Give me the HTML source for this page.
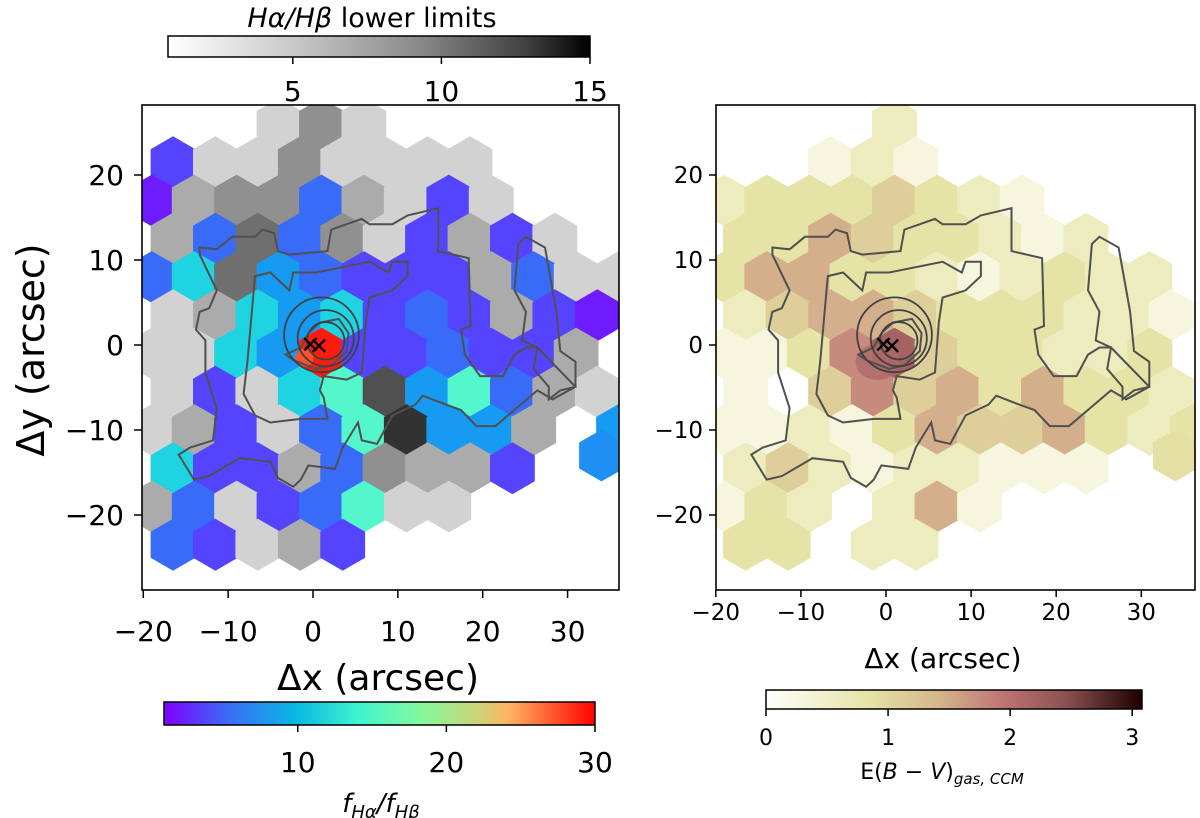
<!DOCTYPE html>
<html><head><meta charset="utf-8"><style>
body{margin:0;background:#fff}
svg{display:block;font-family:"DejaVu Sans","Liberation Sans",sans-serif}
</style></head><body>
<svg id="fig" width="1200" height="818" viewBox="0 0 1200 818" xmlns="http://www.w3.org/2000/svg">
<defs>
<clipPath id="clipL"><rect x="142" y="105" width="477" height="485"/></clipPath>
<clipPath id="clipR"><rect x="716" y="105" width="479" height="485"/></clipPath>
<linearGradient id="gGrey" x1="0" x2="1" y1="0" y2="0"><stop offset="0" stop-color="#ffffff"/><stop offset="0.3" stop-color="#c8c8c8"/><stop offset="0.6" stop-color="#888"/><stop offset="0.85" stop-color="#404040"/><stop offset="1" stop-color="#000"/></linearGradient>
<linearGradient id="gRain" x1="0" x2="1" y1="0" y2="0"><stop offset="0" stop-color="#8000ff"/><stop offset="0.15" stop-color="#3c6df5"/><stop offset="0.3" stop-color="#08b5e5"/><stop offset="0.45" stop-color="#3ef4d0"/><stop offset="0.6" stop-color="#86f89c"/><stop offset="0.72" stop-color="#c7d67a"/><stop offset="0.8" stop-color="#ffb360"/><stop offset="0.9" stop-color="#ff5a30"/><stop offset="1" stop-color="#ff0000"/></linearGradient>
<linearGradient id="gPink" x1="0" x2="1" y1="0" y2="0"><stop offset="0" stop-color="#fffffd"/><stop offset="0.27" stop-color="#e6e4a6"/><stop offset="0.45" stop-color="#d6b88e"/><stop offset="0.63" stop-color="#bf7474"/><stop offset="0.8" stop-color="#8a5050"/><stop offset="1" stop-color="#1e0000"/></linearGradient>
</defs>
<g id="cellsL" clip-path="url(#clipL)"></g>
<g id="cellsR" clip-path="url(#clipR)"></g>
<g id="contL" clip-path="url(#clipL)"></g>
<g id="contR" clip-path="url(#clipR)"></g>
<g id="axes"></g>

<g>
<text x="372" y="27" font-size="27" text-anchor="middle"><tspan font-style="italic">Hα/Hβ</tspan> lower limits</text>
<rect x="168" y="36" width="422" height="21" fill="url(#gGrey)" stroke="#000" stroke-width="1.5"/>
</g>
<g>
<rect x="164" y="702" width="431" height="23" fill="url(#gRain)" stroke="#000" stroke-width="1.5"/>
<text x="381" y="812" font-size="26" text-anchor="middle" font-style="italic">f<tspan font-size="18" dy="6">Hα</tspan><tspan dy="-6">/f</tspan><tspan font-size="18" dy="6">Hβ</tspan></text>
</g>
<g>
<rect x="766" y="690" width="376" height="19" fill="url(#gPink)" stroke="#000" stroke-width="1.5"/>
<text x="942" y="779" font-size="22" text-anchor="middle">E(<tspan font-style="italic">B</tspan> − <tspan font-style="italic">V</tspan>)<tspan font-size="15" font-style="italic" dy="5">gas, CCM</tspan></text>
</g>
</svg>
<script>
const rowY = [26, 21.5, 17, 12.5, 8, 3.5, -1, -5.5, -10, -14.5, -19, -23.5];
const leftRows = [
 ". . . A C A . . . . . .",
 "2 A A C A A A A . . .",
 "1 B C C 3 B A 2 A . . .",
 "B 3 D 3 C A 2 B 2 A .",
 "3 5 D 4 3 2 2 2 B 3 A A",
 "A B 5 4 5 2 3 2 B 2 1",
 "A A 5 4 9 2 2 3 2 2 B .",
 "A 2 A 5 6 E 4 6 3 B A",
 "A B 2 A 3 6 F 4 4 B . 4",
 "5 2 2 B 3 C B B 2 . .",
 "B 3 A 2 3 6 A A . . . .",
 "3 2 A B 2 . . . . . ."
];
const rightRows = [
 ". . . . 2 . . . . . . .",
 ". . 1 2 1 . . . . . .",
 "2 3 3 3 4 3 2 1 . . . .",
 "3 3 5 4 3 3 2 1 2 . .",
 "3 5 5 3 3 2 1 2 3 2 2 .",
 "2 4 5 5 4 3 3 3 2 2 1",
 "1 1 3 6 7 4 3 3 2 2 3 .",
 "1 . 4 6 4 5 3 5 3 3 2",
 "1 1 2 1 3 5 4 4 5 3 2 3",
 "2 4 2 1 2 2 1 1 1 . .",
 "1 3 2 . 2 5 1 . . . . .",
 "3 3 . 2 2 . . . . . ."
];
const greyVals = {A:2.5, B:4.5, C:6, D:8, E:10, F:12};
const ratioVals = {"1":2, "2":3.5, "3":5, "4":7, "5":10, "6":13, "8":22, "9":29};
const ebvVals = {"1":0.3, "2":0.6, "3":0.85, "4":1.1, "5":1.45, "6":1.75, "7":2.2};
const xTicks = [-20, -10, 0, 10, 20, 30];
const yTicks = [20, 10, 0, -10, -20];
const greyTicks = [5, 10, 15];
const ratioTicks = [10, 20, 30];
const ebvTicks = [0, 1, 2, 3];
const outerContour = [[455,520],[500,525],[540,490],[600,490],[620,470],[650,480],[660,530],[690,540],[790,530],[800,470],[880,440],[900,455],[960,455],[1000,430],[1040,420],[1080,410],[1080,530],[1160,550],[1165,740],[1140,750],[1150,820],[1190,880],[1250,880],[1280,820],[1310,800],[1340,800],[1330,860],[1370,910],[1370,945],[1400,920],[1440,910],[1440,840],[1400,810],[1390,700],[1360,520],[1310,490],[1290,510],[1280,640],[1310,700],[1300,780],[1340,800],[1440,910],[1380,945],[1340,920],[1230,1020],[1180,1020],[1140,975],[1100,960],[1040,935],[1020,960],[960,990],[920,1070],[880,1060],[870,1010],[830,1080],[810,1140],[740,1130],[720,1170],[700,1190],[660,1165],[640,1120],[560,1110],[480,1160],[440,1170],[400,1100],[430,1080],[490,1060],[500,970],[470,870],[470,780],[445,750],[455,700],[480,690],[500,640],[455,540]];
const innerContour = [[580,840],[600,600],[640,590],[690,640],[700,590],[760,590],[900,560],[950,590],[960,560],[1000,560],[1000,600],[960,640],[900,660],[890,730],[880,870],[840,890],[780,880],[770,920],[780,940],[790,1000],[720,1000],[640,1010],[600,990],[570,930]];
const coreContour = [[680,820],[720,800],[740,760],[770,730],[820,720],[845,760],[840,810],[800,850],[760,860],[700,835]];

const yPix = v => 345 - v*8.5;
const xPixL = v => 313 + v*8.486;
const xPixR = v => 886 + v*8.51;
const digX = zx => (zx-752)/22.24;
const digY = zy => (793-zy)/23.8;
function rainbow(v){const t=Math.max(0,Math.min(1,(v-1)/29));
 const r=Math.min(1,Math.abs(2*t-0.5)),g=Math.sin(Math.PI*t),b=Math.cos(Math.PI*t/2);
 return `rgb(${Math.round(r*255)},${Math.round(g*255)},${Math.round(b*255)})`;}
function greys(v){const t=Math.max(0,Math.min(1,(v-0.8)/14.2));const g=Math.round(255*(1-Math.pow(t,0.8)*0.97));return `rgb(${g},${g},${g})`;}
const pinkStops=[[0,[255,255,253]],[0.27,[230,228,166]],[0.45,[214,184,142]],[0.63,[191,116,116]],[0.8,[138,80,80]],[1,[30,0,0]]];
function pink(v){const t=Math.max(0,Math.min(1,v/3.08));
 for(let i=1;i<pinkStops.length;i++){if(t<=pinkStops[i][0]){const a=pinkStops[i-1],b=pinkStops[i];const f=(t-a[0])/(b[0]-a[0]);
 const c=a[1].map((x,k)=>Math.round(x+(b[1][k]-x)*f));return `rgb(${c})`;}}return 'rgb(30,0,0)';}

const NS="http://www.w3.org/2000/svg";
function hexPts(cx,cy,xs){const r=3.05;let p=[];for(let k=0;k<6;k++){const a=Math.PI/6+k*Math.PI/3;p.push(xs(cx+r*Math.cos(a)).toFixed(1)+","+yPix(cy+r*Math.sin(a)).toFixed(1));}return p.join(" ");}
function drawCells(gId, rows, xs, colorFn, nm){
 const g=document.getElementById(gId);
 rows.forEach((row,ri)=>{const codes=row.split(" ");const off=(ri%2===1)?2.5:0;
  codes.forEach((c,ci)=>{const col=colorFn(c);if(!col)return;
   const cx=-19+off+ci*5, cy=rowY[ri];
   const p=document.createElementNS(NS,"polygon");
   p.setAttribute("points",hexPts(cx,cy,xs));p.setAttribute("fill",col);
   
   
   g.appendChild(p);});});
}
drawCells("cellsL",leftRows,xPixL,c=>c in greyVals?greys(greyVals[c]):(c in ratioVals?rainbow(ratioVals[c]):null),"ratio-cell");
drawCells("cellsR",rightRows,xPixR,c=>c in ebvVals?pink(ebvVals[c]):null,"ebv-cell");
(function(){
 const gl=document.getElementById("cellsL");
 const e=document.createElementNS(NS,"polygon");e.setAttribute("points",hexPts(34,-13,xPixL));e.setAttribute("fill",rainbow(6.5));
 
 
 gl.appendChild(e);
 const core=document.createElementNS(NS,"circle");core.setAttribute("cx",xPixL(-1));core.setAttribute("cy",yPix(-1.5));core.setAttribute("r",9);core.setAttribute("fill",rainbow(27));
 
 
 gl.appendChild(core);
 const gr=document.getElementById("cellsR");
 const e2=document.createElementNS(NS,"polygon");e2.setAttribute("points",hexPts(34,-13,xPixR));e2.setAttribute("fill",pink(0.9));
 
 
 gr.appendChild(e2);
 const c2=document.createElementNS(NS,"ellipse");c2.setAttribute("cx",xPixR(-1));c2.setAttribute("cy",yPix(-2));c2.setAttribute("rx",22);c2.setAttribute("ry",18);c2.setAttribute("fill",pink(2.1));c2.setAttribute("opacity","0.8");
 
 
 gr.appendChild(c2);
})();
function drawContours(gId,xs){
 const g=document.getElementById(gId);
 [outerContour,innerContour,coreContour].forEach(c=>{
  const p=document.createElementNS(NS,"polygon");
  p.setAttribute("points",c.map(q=>xs(digX(q[0])).toFixed(1)+","+yPix(digY(q[1])).toFixed(1)).join(" "));
  p.setAttribute("fill","none");p.setAttribute("stroke","#505050");p.setAttribute("stroke-width","2");
  
  
  g.appendChild(p);});
 [[1.5,0.5,2.2],[1.5,0.8,3.3],[1,1.2,4.4]].forEach(([x,y,r])=>{
  const c=document.createElementNS(NS,"ellipse");c.setAttribute("cx",xs(x));c.setAttribute("cy",yPix(y));c.setAttribute("rx",r*8.5);c.setAttribute("ry",r*8.5);
  c.setAttribute("fill","none");c.setAttribute("stroke","#404040");c.setAttribute("stroke-width","1.8");
  
  
  g.appendChild(c);});
 [[-0.3,0],[0.7,-0.2]].forEach(([x,y])=>{
  const t=document.createElementNS(NS,"text");t.setAttribute("x",xs(x));t.setAttribute("y",yPix(y)+8);t.setAttribute("font-size","24");t.setAttribute("text-anchor","middle");t.textContent="✕";
  
  
  g.appendChild(t);});
}
drawContours("contL",xPixL);drawContours("contR",xPixR);

const ax=document.getElementById("axes");
function add(tag,attrs,txt,name){const e=document.createElementNS(NS,tag);for(const k in attrs)e.setAttribute(k,attrs[k]);if(txt!==undefined)e.textContent=txt;
 
 
 ax.appendChild(e);return e;}
add("rect",{x:142,y:105,width:477,height:485,fill:"none",stroke:"#000","stroke-width":1.6},undefined,"left-axes-frame");
add("rect",{x:716,y:105,width:479,height:485,fill:"none",stroke:"#000","stroke-width":1.6},undefined,"right-axes-frame");
const fmt=v=>v<0?"−"+Math.abs(v):String(v);
xTicks.forEach(v=>{
 add("line",{x1:xPixL(v),x2:xPixL(v),y1:590,y2:598,stroke:"#000","stroke-width":1.5},undefined,"x-tick-left");
 add("text",{x:xPixL(v),y:641,"font-size":28,"text-anchor":"middle"},fmt(v),"x-tick-label-left");
 add("line",{x1:xPixR(v),x2:xPixR(v),y1:590,y2:597,stroke:"#000","stroke-width":1.5},undefined,"x-tick-right");
 add("text",{x:xPixR(v),y:620,"font-size":23,"text-anchor":"middle"},fmt(v),"x-tick-label-right");
});
yTicks.forEach(v=>{
 add("line",{x1:134,x2:142,y1:yPix(v),y2:yPix(v),stroke:"#000","stroke-width":1.5},undefined,"y-tick-left");
 add("text",{x:124,y:yPix(v)+10,"font-size":28,"text-anchor":"end"},fmt(v),"y-tick-label-left");
 add("line",{x1:709,x2:716,y1:yPix(v),y2:yPix(v),stroke:"#000","stroke-width":1.5},undefined,"y-tick-right");
 add("text",{x:703,y:yPix(v)+8,"font-size":23,"text-anchor":"end"},fmt(v),"y-tick-label-right");
});
add("text",{x:378,y:690,"font-size":36,"text-anchor":"middle"},"Δx (arcsec)","x-axis-title-left");
add("text",{x:943,y:668,"font-size":28,"text-anchor":"middle"},"Δx (arcsec)","x-axis-title-right");
add("text",{x:0,y:0,"font-size":38,"text-anchor":"middle",transform:"translate(44,350) rotate(-90)"},"Δy (arcsec)","y-axis-title-left");
const gx=v=>168+(v-0.8)/14.2*422;
greyTicks.forEach(v=>{
 add("line",{x1:gx(v),x2:gx(v),y1:57,y2:64,stroke:"#000","stroke-width":1.5},undefined,"grey-colorbar-tick");
 add("text",{x:gx(v),y:101,"font-size":28,"text-anchor":"middle"},String(v),"grey-colorbar-tick-label");
});
const rx=v=>164+(v-1)/29*431;
ratioTicks.forEach(v=>{
 add("line",{x1:rx(v),x2:rx(v),y1:725,y2:732,stroke:"#000","stroke-width":1.5},undefined,"ratio-colorbar-tick");
 add("text",{x:rx(v),y:772,"font-size":28,"text-anchor":"middle"},String(v),"ratio-colorbar-tick-label");
});
const ex=v=>766+v/3.08*376;
ebvTicks.forEach(v=>{
 add("line",{x1:ex(v),x2:ex(v),y1:709,y2:716,stroke:"#000","stroke-width":1.5},undefined,"ebv-colorbar-tick");
 add("text",{x:ex(v),y:745,"font-size":22,"text-anchor":"middle"},String(v),"ebv-colorbar-tick-label");
});
</script>
</body></html>
